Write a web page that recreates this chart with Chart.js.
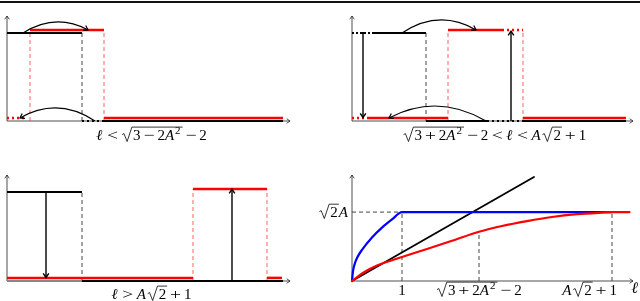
<!DOCTYPE html>
<html><head><meta charset="utf-8">
<script src="https://cdn.jsdelivr.net/npm/chart.js@4.4.0/dist/chart.umd.min.js"></script>
<style>
html,body{margin:0;padding:0;background:#fff;}
#wrap{position:relative;width:640px;height:301px;overflow:hidden;background:#fff;}
#wrap canvas{position:absolute;left:0;top:0;}
.rule{position:absolute;left:0;top:1px;width:640px;height:2px;background:#111;}
</style></head><body>
<div id="wrap"><div class="rule"></div>
<canvas id="c1" width="640" height="301"></canvas>
<canvas id="c2" width="640" height="301"></canvas>
<canvas id="c3" width="640" height="301"></canvas>
<canvas id="c4" width="640" height="301"></canvas>
</div>
<script>
// segments are [x0,y0,x1,y1] in panel units; arcs add the peak height; arrows go from (x0,y0) to (x1,y1)

// panel 1 : l < sqrt(3-2A^2)-2
const p1Range = [11.32, 1.193];
const p1Black = [[0,1,3,1],[3.88,0,11.04,0]];
const p1BlackDash = [[3,0,3,1]];
const p1BlackDot = [[3,0,3.88,0]];
const p1Red = [[0.92,1.035,3.88,1.035],[3.88,0.035,11.04,0.035]];
const p1RedDash = [[0.92,0,0.92,1.035],[3.88,0,3.88,1.035]];
const p1RedDot = [[0,0.035,0.8,0.035]];
const p1Arcs = [[0.64,1,3.24,1.035,1.125],[3.52,0,0.52,0.035,0.148]];

// panel 2 : sqrt(3+2A^2)-2 < l < A sqrt2 + 1
const p2Range = [11.24, 1.193];
const p2Black = [[0.84,1,2.96,1],[2.96,0,5.4,0],[6.84,0,10.96,0]];
const p2BlackDash = [[2.96,0,2.96,1]];
const p2BlackDashDot = [[0,1,0.84,1]];
const p2BlackDot = [[5.4,0,6.84,0]];
const p2Red = [[3.84,1.035,6.0,1.035],[0.68,0.035,3.84,0.035],[6.84,0.035,10.96,0.035]];
const p2RedDash = [[3.84,0,3.84,1.035],[6.84,0,6.84,1.035]];
const p2RedDot = [[6.0,1.035,6.84,1.035],[0,0.035,0.68,0.035]];
const p2Arrows = [[0.44,1,0.44,0.04],[6.36,0,6.36,1.02]];
const p2Arcs = [[2.0,1,4.96,1.035,1.148],[5.36,0,1.48,0.035,0.17]];

// panel 3 : l > A sqrt2 + 1
const p3Range = [11.32, 1.19];
const p3Black = [[0,1,3,1],[3,0,11.04,0]];
const p3Grey = [[0,0,3,0]];
const p3BlackDash = [[3,0,3,1]];
const p3Red = [[0,0.035,7.44,0.035],[7.44,1.034,10.4,1.034],[10.4,0.035,11.0,0.035]];
const p3RedDash = [[7.44,0,7.44,1.034],[10.4,0,10.4,1.034]];
const p3Arrows = [[1.56,1,1.56,0.04],[9.0,0,9.0,1.03]];

// panel 4 : curves against l
const p4Range = [5.62, 6.46];
const blackEll = [0, 3.64];
const blackVals = [0, 6.34];
const blueEll = [0, 0.02, 0.05, 0.1, 0.2, 0.4, 0.6, 0.8, 1, 5.2];
const blueVals = [0, 0.6, 1.0, 1.4, 1.9, 2.65, 3.25, 3.75, 4.2, 4.2];
const redEll = [0, 0.25, 0.5, 1, 1.5, 2, 2.54, 3, 3.5, 4, 4.5, 5, 5.2, 5.55];
const redVals = [0, 0.55, 0.95, 1.46, 1.95, 2.45, 3.0, 3.35, 3.65, 3.9, 4.07, 4.17, 4.2, 4.2];
const p4Guides = [[0,4.2,1,4.2],[1,0,1,4.2],[2.54,0,2.54,3.0],[5.2,0,5.2,4.2]];
const p4XTicks = [1, 2.54, 5.2];
const p4YTick = 4.2;

const RED = '#ff0000', BLUE = '#0000ff', INK = '#000';
const SERIF = '"Liberation Serif","DejaVu Serif",serif';
const FS = 15;

// ---- tiny math text setter (TeX-like spacing round operators) ----
function tokW(ctx,t,s){
  if(typeof t==='string'){ctx.font=s+'px '+SERIF;return ctx.measureText(t).width;}
  if(t.i){ctx.font='italic '+s+'px '+SERIF;return ctx.measureText(t.i).width+1;}
  if(t.sup){ctx.font=Math.round(s*0.7)+'px '+SERIF;return ctx.measureText(t.sup).width+1;}
  if(t.op){ctx.font=s+'px '+SERIF;return s*1.12;}
  if(t.rel){ctx.font=s+'px '+SERIF;return s*1.2;}
  if(t.sqrt){return s*0.78+seqW(ctx,t.sqrt,s)+1;}
  return 0;
}
function seqW(ctx,a,s){let w=0;for(const t of a)w+=tokW(ctx,t,s);return w;}
function drawSeq(ctx,a,x,y,s){
  for(const t of a){
    const w=tokW(ctx,t,s);
    if(typeof t==='string')ctx.fillText(t,x,y);
    else if(t.i)ctx.fillText(t.i,x,y);
    else if(t.sup)ctx.fillText(t.sup,x,y-s*0.42);
    else if(t.op||t.rel){
      const g=t.op||t.rel,gw=ctx.measureText(g).width;
      ctx.save();ctx.translate(x+w/2,y);ctx.scale(1.3,1);ctx.fillText(g,-gw/2,0);ctx.restore();
    }
    else if(t.sqrt){
      const inner=seqW(ctx,t.sqrt,s);
      ctx.beginPath();ctx.lineWidth=0.8;
      ctx.moveTo(x+0.05*s,y-0.36*s);ctx.lineTo(x+0.17*s,y-0.43*s);
      ctx.lineTo(x+0.38*s,y+0.1*s);ctx.lineTo(x+0.7*s,y-0.86*s);
      ctx.lineTo(x+0.78*s+inner+1,y-0.86*s);ctx.stroke();
      drawSeq(ctx,t.sqrt,x+s*0.78,y,s);
    }
    x+=w;
  }
}
function drawMath(ctx,a,x,y,s,align){
  const w=seqW(ctx,a,s);
  let x0=x; if(align==='center')x0=x-w/2; else if(align==='right')x0=x-w;
  ctx.save();ctx.fillStyle=INK;ctx.strokeStyle=INK;ctx.textBaseline='alphabetic';ctx.textAlign='left';
  drawSeq(ctx,a,x0,y,s);ctx.restore();
}

function head(ctx,x,y,ang,len){
  ctx.beginPath();
  ctx.moveTo(x-len*Math.cos(ang-0.6),y-len*Math.sin(ang-0.6));
  ctx.lineTo(x,y);
  ctx.lineTo(x-len*Math.cos(ang+0.6),y-len*Math.sin(ang+0.6));
  ctx.stroke();
}

function segSets(segs,color,width,dash){
  return segs.map(s=>({data:[{x:s[0],y:s[1]},{x:s[2],y:s[3]}],borderColor:color,borderWidth:width,
    borderDash:dash||[],showLine:true,pointRadius:0,clip:false,borderCapStyle:'butt',tension:0}));
}
function curveSet(xs,ys,color,width){
  return {data:xs.map((x,i)=>({x:x,y:ys[i]})),borderColor:color,borderWidth:width,showLine:true,
    pointRadius:0,clip:false,cubicInterpolationMode:'monotone',borderCapStyle:'round'};
}

function panel(id,pad,range,sets,extra){
  sets.forEach((d,i)=>{d.order=-i;});
  const overlay={id:'overlay',
    beforeDatasetsDraw(chart){
      const {ctx,chartArea:a}=chart;
      ctx.save();ctx.strokeStyle='#222';ctx.lineWidth=0.8;
      ctx.beginPath();ctx.moveTo(a.left,a.bottom);ctx.lineTo(a.right,a.bottom);ctx.stroke();
      head(ctx,a.right,a.bottom,0,4);
      ctx.beginPath();ctx.moveTo(a.left,a.bottom);ctx.lineTo(a.left,a.top);ctx.stroke();
      head(ctx,a.left,a.top,-Math.PI/2,4);
      ctx.restore();
    },
    afterDatasetsDraw(chart){
      const {ctx,scales:{x:X,y:Y},chartArea:a}=chart;
      ctx.save();ctx.strokeStyle=INK;ctx.lineWidth=1.2;
      (extra.arcs||[]).forEach(r=>{
        const x0=X.getPixelForValue(r[0]),y0=Y.getPixelForValue(r[1]);
        const x1=X.getPixelForValue(r[2]),y1=Y.getPixelForValue(r[3]);
        const yp=Y.getPixelForValue(r[4]);
        const cx=(x0+x1)/2,cy=2*yp-(y0+y1)/2;
        ctx.beginPath();ctx.moveTo(x0,y0);ctx.quadraticCurveTo(cx,cy,x1,y1);ctx.stroke();
        head(ctx,x1,y1,Math.atan2(y1-cy,x1-cx),5);
      });
      ctx.lineWidth=1.4;
      (extra.arrows||[]).forEach(r=>{
        const x0=X.getPixelForValue(r[0]),y0=Y.getPixelForValue(r[1]);
        const x1=X.getPixelForValue(r[2]),y1=Y.getPixelForValue(r[3]);
        ctx.beginPath();ctx.moveTo(x0,y0);ctx.lineTo(x1,y1);ctx.stroke();
        head(ctx,x1,y1,Math.atan2(y1-y0,x1-x0),5);
      });
      ctx.restore();
      if(extra.labels)extra.labels(ctx,X,Y,a);
    }};
  return new Chart(document.getElementById(id),{
    type:'scatter',
    data:{datasets:sets},
    options:{responsive:false,animation:false,events:[],
      layout:{padding:pad},
      plugins:{legend:{display:false},tooltip:{enabled:false}},
      scales:{x:{type:'linear',min:0,max:range[0],display:false},
              y:{type:'linear',min:0,max:range[1],display:false}}},
    plugins:[overlay]});
}

const redDash=[4,3], blackDash=[4,3];
const L={i:'ℓ'}, A={i:'A'}, SQ={sup:'2'};

panel('c1',{left:7,right:350,top:16,bottom:180},p1Range,[
  ...segSets(p1BlackDash,'#444',1,blackDash),
  ...segSets(p1RedDash,'rgba(255,40,40,0.6)',1.2,redDash),
  ...segSets(p1BlackDot,INK,2,[2,3]),
  ...segSets(p1Black,INK,2),
  ...segSets(p1Red,RED,2.5),
  ...segSets(p1RedDot,RED,2.5,[2,3])
],{arcs:p1Arcs,labels(ctx,X,Y,a){
  drawMath(ctx,[L,{rel:'<'},{sqrt:['3',{op:'−'},'2',A,SQ]},{op:'−'},'2'],(a.left+a.right)/2+3,a.bottom+19,FS,'center');
}});

panel('c2',{left:352,right:7,top:16,bottom:180},p2Range,[
  ...segSets(p2BlackDash,'#444',1,blackDash),
  ...segSets(p2RedDash,'rgba(255,40,40,0.6)',1.2,redDash),
  ...segSets(p2BlackDashDot,INK,2,[2,2,2,2,6,2]),
  ...segSets(p2BlackDot,INK,2,[2,3]),
  ...segSets(p2Black,INK,2),
  ...segSets(p2Red,RED,2.5),
  ...segSets(p2RedDot,RED,2.5,[2,3])
],{arcs:p2Arcs,arrows:p2Arrows,labels(ctx,X,Y,a){
  drawMath(ctx,[{sqrt:['3',{op:'+'},'2',A,SQ]},{op:'−'},'2',{rel:'<'},L,{rel:'<'},A,{sqrt:['2']},{op:'+'},'1'],(a.left+a.right)/2+2,a.bottom+19,FS,'center');
}});

panel('c3',{left:7,right:350,top:175,bottom:20},p3Range,[
  ...segSets(p3BlackDash,'#444',1,blackDash),
  ...segSets(p3RedDash,'rgba(255,40,40,0.6)',1.2,redDash),
  ...segSets(p3Grey,'#888',2),
  ...segSets(p3Black,INK,2),
  ...segSets(p3Red,RED,2.5)
],{arrows:p3Arrows,labels(ctx,X,Y,a){
  drawMath(ctx,[L,{rel:'>'},A,{sqrt:['2']},{op:'+'},'1'],(a.left+a.right)/2+3,a.bottom+18,FS,'center');
}});

panel('c4',{left:352,right:7,top:175,bottom:20},p4Range,[
  ...segSets(p4Guides,'#444',1,blackDash),
  curveSet(blackEll,blackVals,INK,1.8),
  curveSet(blueEll,blueVals,BLUE,2.2),
  curveSet(redEll,redVals,RED,2.2)
],{labels(ctx,X,Y,a){
  const yb=a.bottom+14;
  drawMath(ctx,['1'],X.getPixelForValue(p4XTicks[0]),yb,FS,'center');
  drawMath(ctx,[{sqrt:['3',{op:'+'},'2',A,SQ]},{op:'−'},'2'],X.getPixelForValue(p4XTicks[1]),yb,FS,'center');
  drawMath(ctx,[A,{sqrt:['2']},{op:'+'},'1'],X.getPixelForValue(p4XTicks[2])+5,yb,FS,'right');
  drawMath(ctx,[L],a.right+6,a.bottom+12,16,'right');
  drawMath(ctx,[{sqrt:['2']},A],a.left-3,Y.getPixelForValue(p4YTick)+5,FS,'right');
}});
</script>
</body></html>
